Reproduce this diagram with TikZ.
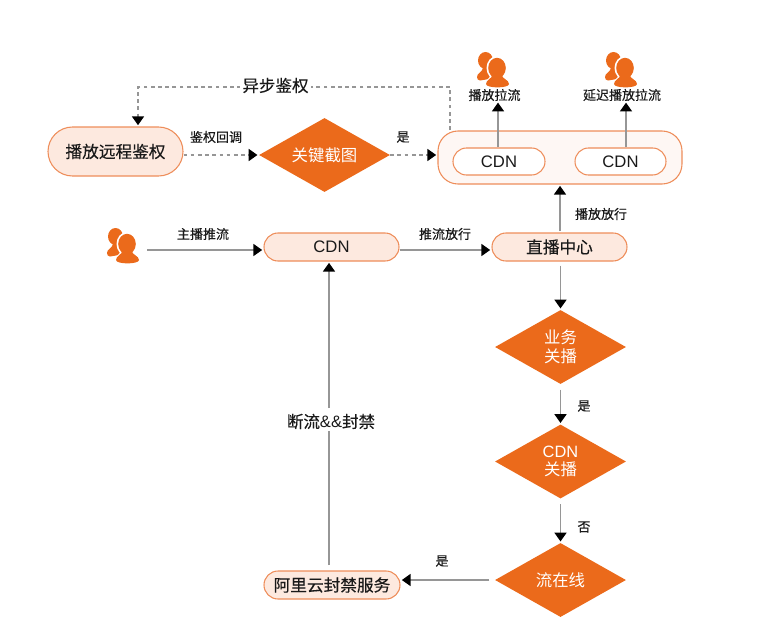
\documentclass[tikz,border=0pt]{standalone}
\usepackage{fontspec}
\setmainfont[FakeBold=0.25]{Noto Sans CJK SC}
\newfontfamily\plainjk{Noto Sans CJK SC}
\newfontfamily\hv{Liberation Sans}
\usetikzlibrary{shapes.geometric,shapes.misc,arrows.meta}
\definecolor{org}{HTML}{EB6A1B}
\definecolor{pale}{HTML}{FDE9DF}
\definecolor{edgeorg}{HTML}{EE8D5A}
\definecolor{ln}{HTML}{969696}
\tikzset{
  pill/.style={rounded rectangle,draw=edgeorg,line width=0.8pt,fill=pale,inner sep=0pt,font=\fontsize{12.5}{14}\selectfont,text=black!90},
  choice/.style={diamond,aspect=1.77,fill=org,inner sep=0pt,text=white,font=\plainjk\fontsize{12.3}{15}\selectfont,align=center},
  lbl/.style={font=\fontsize{9.75}{12}\selectfont,text=black!90,inner sep=0pt},
  lblbig/.style={font=\fontsize{12.4}{14}\selectfont,text=black!90,inner sep=1pt},
  flow/.style={draw=ln,line width=0.9pt,shorten >=1pt,-{Triangle[black,length=6.5pt,width=9pt]}},
  dflow/.style={flow,dashed,dash pattern=on 2.8pt off 2.6pt},
  plain/.style={draw=ln,line width=0.9pt},
  pics/personicon/.style={code={
    \fill[org] (-7.5,-8.5) circle[x radius=7.5,y radius=8.5];
    \fill[org] (-16,8) .. controls (-16,4) and (-11,3.5) .. (-10,-1) -- (-4,-2) -- (0,4) -- (-4,10) -- (-13,11.5) .. controls (-15,11.5) and (-16,10) .. (-16,8) -- cycle;
    \fill[white] (4,-1) circle[x radius=10.5,y radius=12];
    \fill[white] (-9.5,19) .. controls (-9.5,12) and (-3,9) .. (-1,5) -- (9,5) -- (18,19) -- cycle;
    \fill[org] (4,-1) circle[x radius=8.8,y radius=10.2];
    \fill[org] (-7,15) .. controls (-7,10.5) and (-1,10.5) .. (-0.5,5) -- (8.5,5) .. controls (9,10.5) and (16,10.5) .. (16,15) .. controls (16,19.5) and (-7,19.5) .. (-7,15) -- cycle;
  }}
}
\begin{document}
\begin{tikzpicture}[x=0.75pt,y=-0.75pt]
\useasboundingbox (0,0) rectangle (780,642);
% big container
\node[draw=edgeorg,line width=0.8pt,fill=pale!35,rounded corners=15pt,minimum width=183pt,minimum height=39.75pt,inner sep=0pt] (big) at (560,157.5) {};
\node[pill,fill=white,minimum width=69pt,minimum height=20.25pt] (cdnA) at (499,161.5) {\hv CDN};
\node[pill,fill=white,minimum width=68.25pt,minimum height=20.25pt] (cdnB) at (620.5,161.5) {\hv CDN};
\node[pill,minimum width=101.25pt,minimum height=36.75pt] (auth) at (115.5,151.5) {播放远程鉴权};
\node[choice,minimum width=98.25pt,minimum height=55.5pt] (shot) at (324.5,155) {关键截图};
\node[pill,minimum width=101.25pt,minimum height=21pt] (cdnM) at (331.5,247) {\hv CDN};
\node[pill,minimum width=101.25pt,minimum height=21pt] (live) at (559.5,247) {直播中心};
\node[choice,minimum width=98.25pt,minimum height=55.5pt] (biz) at (560.5,347) {业务\\[-1pt]关播};
\node[choice,minimum width=98.25pt,minimum height=55.5pt] (cdnq) at (560.5,461.5) {{\hv CDN}\\[-1pt]关播};
\node[choice,minimum width=98.25pt,minimum height=55.5pt] (online) at (560.5,580) {流在线};
\node[pill,minimum width=102pt,minimum height=21pt] (ban) at (332,585) {阿里云封禁服务};
% icons
\pic at (123,245) {personicon};
\coordinate (host) at (147,250);
\pic at (493,69) {personicon};
\pic at (621,69) {personicon};
\node[lbl] (pull) at (494.5,95) {播放拉流};
\node[lbl] (delay) at (622,95) {延迟播放拉流};
% connectors
\coordinate (up) at (138,87);
\coordinate (corner) at (450,87);
\coordinate (bigtop) at (450,130);
\draw[dflow] (bigtop) -- (corner) -- (up) -- (up |- auth.north);
\node[lblbig,fill=white,inner xsep=2pt] (async) at (275.5,85.5) {异步鉴权};
\draw[dflow] (auth.east |- shot.west) -- (shot.west);
\draw[dflow] (shot.east) -- (big.west |- shot.east);
\node[lbl] at (216,137) {鉴权回调};
\node[lbl] at (403,137) {是};
\draw[flow] (host) -- (cdnM.west |- host);
\node[lbl] at (203,234) {主播推流};
\draw[flow] (cdnM.east |- host) -- (live.west |- host);
\node[lbl] at (445,234) {推流放行};
\coordinate (tailA) at (498,147);
\coordinate (tailB) at (626,147);
\draw[flow] (tailA) -- (tailA |- pull.south);
\draw[flow] (tailB) -- (tailB |- delay.south);
\draw[flow,shorten <=1pt] (big.south |- live.north) -- (big.south);
\node[lbl] at (601,214) {播放放行};
\draw[flow,shorten <=3pt] (biz.north |- live.south) -- (biz.north);
\draw[flow,shorten <=4pt] (biz.south) -- (cdnq.north);
\node[lbl] at (584,406) {是};
\draw[flow,shorten <=4pt] (cdnq.south) -- (online.north);
\node[lbl] at (584,527) {否};
\coordinate (banin) at (online.west);
\draw[flow,shorten <=4pt] (banin) -- (banin -| ban.east);
\node[lbl] at (442,561) {是};
\coordinate (cutx) at (329,247);
\node[lblbig] (cut) at (331,421.5) {断流{\hv\&\&}封禁};
\draw[plain,shorten <=4pt] (cutx |- ban.north) -- (cutx |- cut.south);
\draw[flow,shorten <=3pt] (cutx |- cut.north) -- (cutx |- cdnM.south);
\end{tikzpicture}
\end{document}
